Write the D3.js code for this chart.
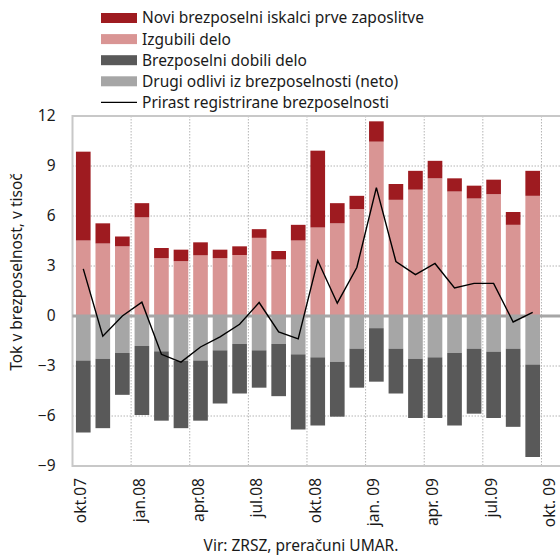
<!DOCTYPE html>
<html>
<head>
<meta charset="utf-8">
<script src="https://cdn.jsdelivr.net/npm/d3@7"></script>
<style>
  body { margin: 0; background: #fff; }
  text { font-family: "Noto Sans", sans-serif; fill: #1a1a1a; }
</style>
</head>
<body>
<div id="root"></div>
<script>
// months, okt.07 .. okt.09 (last one has no data)
const months = ["okt.07","nov.07","dec.07","jan.08","feb.08","mar.08","apr.08","maj.08","jun.08",
    "jul.08","avg.08","sep.08","okt.08","nov.08","dec.08","jan. 09","feb.09","mar.09","apr. 09",
    "maj.09","jun.09","jul.09","avg.09","sep.09","okt. 09"];
const tickLabels = {"okt.07":"okt.07","jan.08":"jan.08","apr.08":"apr.08","jul.08":"jul.08",
    "okt.08":"okt.08","jan. 09":"jan. 09","apr. 09":"apr. 09","jul.09":"jul.09","okt. 09":"okt. 09"};

// in thousands
const novi = [5.33,1.21,0.59,0.85,0.61,0.69,0.78,0.51,0.52,0.52,0.51,0.94,
    4.61,1.21,0.79,1.22,0.95,1.13,1.05,0.79,0.77,0.87,0.77,1.50];
const izgubili = [4.53,4.35,4.18,5.92,3.47,3.29,3.64,3.47,3.66,4.69,3.39,4.53,
    5.31,5.56,6.42,10.46,6.97,7.58,8.26,7.47,7.05,7.31,5.47,7.21];
const drugi = [-2.67,-2.57,-2.22,-1.80,-2.12,-2.69,-2.67,-2.06,-1.68,-2.06,-1.68,-2.30,
    -2.48,-2.75,-1.96,-0.73,-1.96,-2.57,-2.48,-2.22,-1.96,-2.14,-1.96,-2.91];
const dobili = [-4.32,-4.16,-2.51,-4.14,-4.16,-4.04,-3.61,-3.19,-2.97,-2.24,-3.13,-4.51,
    -4.09,-3.29,-2.34,-3.21,-2.69,-3.55,-3.64,-4.35,-3.90,-3.98,-4.69,-5.55];
const prirast = [2.83,-1.21,0.00,0.83,-2.30,-2.77,-1.86,-1.25,-0.50,0.81,-0.95,-1.37,
    3.33,0.77,2.91,7.70,3.27,2.48,3.15,1.68,1.96,1.96,-0.36,0.22];

const series = [
    {name: "Novi brezposelni iskalci prve zaposlitve", color: "#9e1b20"},
    {name: "Izgubili delo", color: "#d99594"},
    {name: "Brezposelni dobili delo", color: "#595959"},
    {name: "Drugi odlivi iz brezposelnosti (neto)", color: "#a6a6a6"}
];

const W = 560, H = 558;
const plot = {left: 72.5, right: 561, top: 116, bottom: 466};
const fs = "15.5px";

const svg = d3.select("#root").append("svg")
    .attr("width", W).attr("height", H);

const x = d3.scaleBand().domain(months)
    .range([plot.left + 1, plot.right + 1])
    .paddingInner(0.25).paddingOuter(0.125);
const y = d3.scaleLinear().domain([-9, 12]).range([plot.bottom, plot.top]);

// gridlines
const grid = svg.append("g").attr("stroke", "#b4b4b4").attr("stroke-dasharray", "1.5,1.5");
[-6, -3, 3, 6, 9].forEach(v => {
    grid.append("line").attr("x1", plot.left).attr("x2", plot.right)
        .attr("y1", y(v)).attr("y2", y(v));
});
d3.range(3, 25, 3).forEach(i => {
    const gx = plot.left + i * x.step();
    grid.append("line").attr("x1", gx).attr("x2", gx)
        .attr("y1", plot.top).attr("y2", plot.bottom);
});

// frame
svg.append("rect")
    .attr("x", plot.left).attr("y", plot.top)
    .attr("width", plot.right - plot.left).attr("height", plot.bottom - plot.top)
    .attr("fill", "none").attr("stroke", "#c8c8c8").attr("stroke-width", 2);

// bars
const data = novi.map((v, i) => ({
    m: months[i], novi: v, izgubili: izgubili[i], drugi: drugi[i], dobili: dobili[i]
}));

const bars = svg.append("g");
function addBars(y0f, y1f, color) {
    bars.selectAll(null).data(data).enter().append("rect")
        .attr("x", d => x(d.m))
        .attr("width", x.bandwidth())
        .attr("y", d => Math.min(y(y0f(d)), y(y1f(d))))
        .attr("height", d => Math.abs(y(y0f(d)) - y(y1f(d))))
        .attr("fill", color);
}
addBars(d => 0, d => d.izgubili, series[1].color);
addBars(d => d.izgubili, d => d.izgubili + d.novi, series[0].color);
addBars(d => 0, d => d.drugi, series[3].color);
addBars(d => d.drugi, d => d.drugi + d.dobili, series[2].color);

// zero line
svg.append("line")
    .attr("x1", plot.left).attr("x2", plot.right)
    .attr("y1", y(0)).attr("y2", y(0))
    .attr("stroke", "#a6a6a6").attr("stroke-width", 3);

// net change line
const line = d3.line()
    .x((d, i) => x(months[i]) + x.bandwidth() / 2)
    .y(d => y(d));
svg.append("path").datum(prirast)
    .attr("d", line)
    .attr("fill", "none").attr("stroke", "#000").attr("stroke-width", 1.4);

// y axis
const yAxis = svg.append("g")
    .attr("transform", "translate(" + plot.left + ",0)")
    .call(d3.axisLeft(y).tickValues(d3.range(-9, 13, 3)).tickSize(0).tickPadding(17));
yAxis.select(".domain").remove();
yAxis.selectAll("text").style("font-size", fs).style("font-family", "'Noto Sans', sans-serif").attr("fill", "#1a1a1a");

svg.append("text")
    .attr("transform", "translate(22,272)rotate(-90)")
    .attr("text-anchor", "middle")
    .style("font-size", fs)
    .text("Tok v brezposelnost, v tisoč");

// x axis labels
const xAxis = svg.append("g")
    .attr("transform", "translate(0," + plot.bottom + ")")
    .call(d3.axisBottom(x).tickValues(Object.keys(tickLabels)).tickSize(0).tickFormat(d => tickLabels[d]));
xAxis.select(".domain").remove();
xAxis.selectAll("text")
    .attr("transform", "rotate(-90)")
    .attr("text-anchor", "end")
    .attr("x", -12).attr("y", 0).attr("dy", "0.2em")
    .style("font-size", fs).style("font-family", "'Noto Sans', sans-serif").attr("fill", "#1a1a1a");

// source
svg.append("text")
    .attr("x", 301).attr("y", 551)
    .attr("text-anchor", "middle")
    .style("font-size", fs)
    .text("Vir: ZRSZ, preračuni UMAR.");

// legend
const legend = svg.append("g").attr("transform", "translate(101,18)");
series.forEach((s, i) => {
    legend.append("rect").attr("x", 0).attr("y", i * 21.1 - 5)
        .attr("width", 36).attr("height", 10).attr("fill", s.color);
    legend.append("text").attr("x", 41).attr("y", i * 21.1).attr("dy", "0.35em")
        .style("font-size", fs).text(s.name);
});
legend.append("line").attr("x1", 0).attr("x2", 36)
    .attr("y1", 4 * 21.1).attr("y2", 4 * 21.1)
    .attr("stroke", "#000").attr("stroke-width", 1.4);
legend.append("text").attr("x", 41).attr("y", 4 * 21.1).attr("dy", "0.35em")
    .style("font-size", fs).text("Prirast registrirane brezposelnosti");
</script>
</body>
</html>
